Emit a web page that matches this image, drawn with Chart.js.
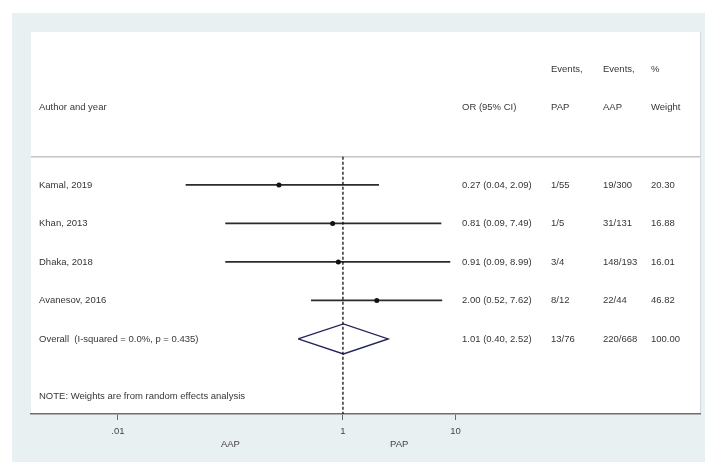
<!DOCTYPE html>
<html>
<head>
<meta charset="utf-8">
<script src="https://cdn.jsdelivr.net/npm/chart.js@4"></script>
<style>
  html, body { margin: 0; padding: 0; background: #ffffff; }
  #wrap { width: 705px; height: 462px; }
</style>
</head>
<body>
<div id="wrap"><canvas id="forest" width="705" height="462"></canvas></div>
<script>
// Study-level results (odds ratio, PAP vs AAP)
const studies   = ['Kamal, 2019', 'Khan, 2013', 'Dhaka, 2018', 'Avanesov, 2016'];
const orEst     = [0.27, 0.81, 0.91, 2.00];
const ciLow     = [0.04, 0.09, 0.09, 0.52];
const ciHigh    = [2.09, 7.49, 8.99, 7.62];
const eventsPAP = ['1/55', '1/5', '3/4', '8/12'];
const eventsAAP = ['19/300', '31/131', '148/193', '22/44'];
const weights   = [20.30, 16.88, 16.01, 46.82];

// Pooled (random effects) estimate
const overallLabel  = 'Overall  (I-squared = 0.0%, p = 0.435)';
const overallEst    = 1.01;
const overallLow    = 0.40;
const overallHigh   = 2.52;
const overallPAP    = '13/76';
const overallAAP    = '220/668';
const overallWeight = 100.00;

// Column headings and axis text
const headTop    = ['', 'Events,', 'Events,', '%'];
const headBottom = ['Author and year', 'OR (95% CI)', 'PAP', 'AAP', 'Weight'];
const xTicks      = [0.01, 1, 10];
const xTickLabels = ['.01', '1', '10'];
const sideLabels  = ['AAP', 'PAP'];
const noteText    = 'NOTE: Weights are from random effects analysis';

const fmtOR = (e, l, h) => `${e.toFixed(2)} (${l.toFixed(2)}, ${h.toFixed(2)})`;

const FONT = '"Liberation Sans", Arial, Helvetica, sans-serif';
const TEXT = '#363636';
const overallRow = studies.length;

// CI whiskers, one line per study
const ciSets = studies.map((s, i) => ({
  label: s,
  data: [{ x: ciLow[i], y: i }, { x: ciHigh[i], y: i }],
  showLine: true,
  borderColor: '#2b2b2b',
  borderWidth: 1.6,
  pointRadius: 0,
  order: 2
}));

const chart = new Chart(document.getElementById('forest'), {
  type: 'scatter',
  data: {
    datasets: [
      ...ciSets,
      {
        label: 'OR',
        data: orEst.map((v, i) => ({ x: v, y: i })),
        showLine: false,
        pointStyle: 'circle',
        pointRadius: 2.5,
        borderWidth: 0,
        backgroundColor: '#111111',
        borderColor: '#111111',
        order: 1
      },
      {
        label: 'Overall',
        data: [
          { x: overallLow, y: overallRow },
          { x: overallEst, y: overallRow - 0.39 },
          { x: overallHigh, y: overallRow },
          { x: overallEst, y: overallRow + 0.39 },
          { x: overallLow, y: overallRow }
        ],
        showLine: true,
        borderColor: '#24245e',
        borderWidth: 1.4,
        pointRadius: 0,
        tension: 0,
        order: 1
      },
      {
        label: 'No effect',
        data: [{ x: 1, y: -0.73 }, { x: 1, y: 5.95 }],
        showLine: true,
        borderColor: '#111111',
        borderWidth: 1.3,
        borderDash: [3, 2],
        pointRadius: 0,
        order: 0
      }
    ]
  },
  options: {
    responsive: false,
    animation: false,
    layout: { padding: { left: 31, top: 32, right: 5, bottom: 0 } },
    plugins: { legend: { display: false }, tooltip: { enabled: false } },
    scales: {
      x: {
        type: 'logarithmic',
        min: 0.00169,
        max: 1490,
        afterBuildTicks: (scale) => { scale.ticks = xTicks.map(v => ({ value: v })); },
        afterFit: (scale) => { scale.height = 48; },
        grid: { display: true, drawOnChartArea: false, drawTicks: true, tickLength: 6, color: '#6a6a6a', lineWidth: 1 },
        border: { display: true, color: '#6f6f6f', width: 1.6 },
        ticks: {
          autoSkip: false,
          maxRotation: 0,
          padding: 6,
          color: '#444444',
          font: { family: FONT, size: 9.5 },
          callback: (v) => { const k = xTicks.indexOf(v); return k >= 0 ? xTickLabels[k] : ''; }
        }
      },
      y: {
        type: 'linear',
        display: false,
        reverse: true,
        min: -3.97,
        max: 5.95
      }
    }
  },
  plugins: [{
    id: 'forestFrame',
    beforeDraw(c) {
      const { ctx, chartArea: a, width, height } = c;
      ctx.save();
      ctx.fillStyle = '#ffffff';
      ctx.fillRect(0, 0, width, height);
      ctx.fillStyle = '#e9f0f2';
      ctx.fillRect(12, 13, width - 12, height - 13);
      ctx.fillStyle = '#ffffff';
      ctx.fillRect(a.left, a.top, a.right - a.left, a.bottom - a.top);
      // right edge of the plot region
      ctx.strokeStyle = '#d5dadd';
      ctx.lineWidth = 1;
      ctx.beginPath();
      ctx.moveTo(a.right + 0.5, a.top);
      ctx.lineTo(a.right + 0.5, a.bottom);
      ctx.stroke();
      // separator under the column headings
      const yh = c.scales.y.getPixelForValue(-0.73);
      ctx.strokeStyle = '#c4c4c4';
      ctx.lineWidth = 1.5;
      ctx.beginPath();
      ctx.moveTo(a.left, yh);
      ctx.lineTo(a.right, yh);
      ctx.stroke();
      ctx.restore();
    },
    afterDraw(c) {
      const { ctx, chartArea: a, scales: { x, y } } = c;
      const colLabel = a.left + 8, colOR = 462, colPAP = 551, colAAP = 603, colW = 651;
      ctx.save();
      ctx.fillStyle = TEXT;
      ctx.font = `9.5px ${FONT}`;
      ctx.textBaseline = 'middle';
      ctx.textAlign = 'left';

      // headings
      const yT = y.getPixelForValue(-3), yB = y.getPixelForValue(-2);
      [colOR, colPAP, colAAP, colW].forEach((cx, k) => { if (headTop[k]) ctx.fillText(headTop[k], cx, yT); });
      [colLabel, colOR, colPAP, colAAP, colW].forEach((cx, k) => ctx.fillText(headBottom[k], cx, yB));

      // study rows
      studies.forEach((s, i) => {
        const py = y.getPixelForValue(i);
        ctx.fillText(s, colLabel, py);
        ctx.fillText(fmtOR(orEst[i], ciLow[i], ciHigh[i]), colOR, py);
        ctx.fillText(eventsPAP[i], colPAP, py);
        ctx.fillText(eventsAAP[i], colAAP, py);
        ctx.fillText(weights[i].toFixed(2), colW, py);
      });

      // pooled row
      const po = y.getPixelForValue(overallRow);
      ctx.fillText(overallLabel, colLabel, po);
      ctx.fillText(fmtOR(overallEst, overallLow, overallHigh), colOR, po);
      ctx.fillText(overallPAP, colPAP, po);
      ctx.fillText(overallAAP, colAAP, po);
      ctx.fillText(overallWeight.toFixed(2), colW, po);

      // footnote
      ctx.fillText(noteText, colLabel, y.getPixelForValue(5.5));

      // favour labels under the axis
      ctx.textAlign = 'center';
      ctx.fillStyle = '#444444';
      const yS = a.bottom + 30;
      ctx.fillText(sideLabels[0], x.getPixelForValue(Math.sqrt(xTicks[0] * xTicks[1])), yS);
      ctx.fillText(sideLabels[1], x.getPixelForValue(Math.sqrt(xTicks[1] * xTicks[2])), yS);
      ctx.restore();
    }
  }]
});
</script>
</body>
</html>
